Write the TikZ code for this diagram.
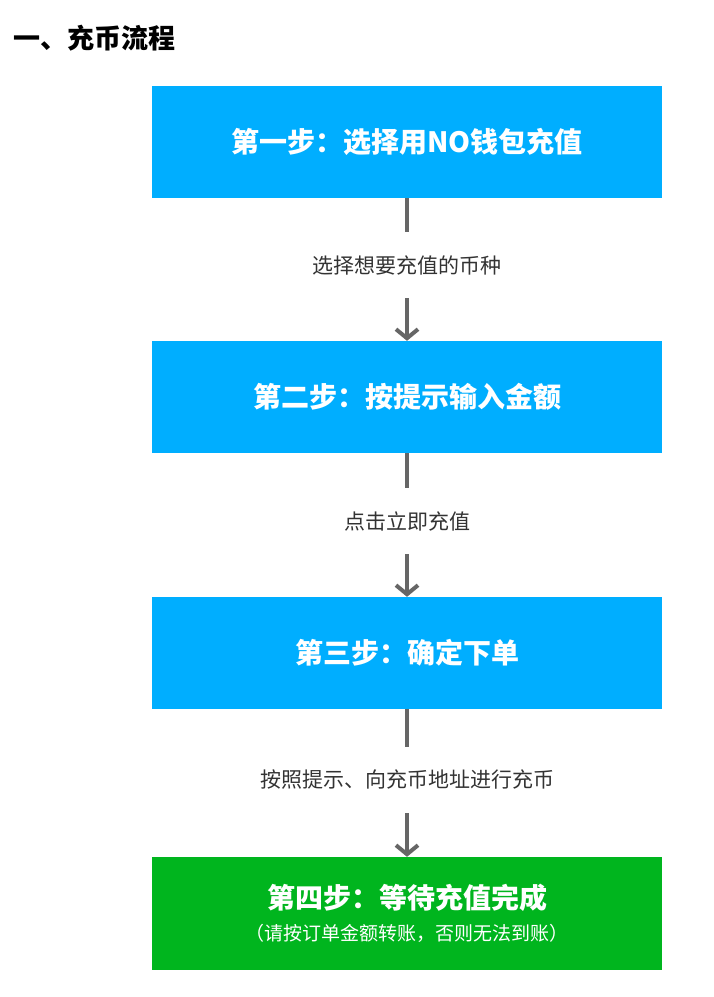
\documentclass[tikz,border=0pt]{standalone}
\usepackage{fontspec}
\setmainfont{Noto Sans CJK SC}
\usetikzlibrary{arrows.meta,positioning}
\definecolor{stepblue}{HTML}{00AEFF}
\definecolor{stepgreen}{HTML}{00B51E}
\definecolor{linkgray}{HTML}{666666}
\tikzset{
    stepbox/.style = {rectangle, fill=stepblue, text=white, minimum width=510pt, minimum height=112pt, align=center, font=\fontsize{28pt}{34pt}\selectfont\bfseries},
    lastbox/.style = {stepbox, fill=stepgreen, minimum height=113pt},
    hint/.style = {inner sep=0pt, minimum height=66pt, text=black!80, font=\fontsize{21pt}{26pt}\selectfont},
    link/.style = {draw=linkgray, line width=4pt}
}
\begin{document}
\begin{tikzpicture}[x=1pt, y=-1pt]
    \useasboundingbox (0,0) rectangle (713,997);
    \node [anchor=west, font=\fontsize{27pt}{32pt}\selectfont\bfseries] (title) at (10,38) {一、充币流程};

    \node [stepbox] (s1) at (407,142) {第一步：选择用NO钱包充值};
    \node [hint] (h1) at (407,265) {选择想要充值的币种};
    \node [stepbox] (s2) at (407,397) {第二步：按提示输入金额};
    \node [hint] (h2) at (407,521) {点击立即充值};
    \node [stepbox] (s3) at (407,653) {第三步：确定下单};
    \node [hint] (h3) at (407,780) {按照提示、向充币地址进行充币};
    \node [lastbox] (s4) at (407,913.5) {第四步：等待充值完成\\[-2pt]
        {\fontsize{19pt}{24pt}\selectfont\mdseries （请按订单金额转账，否则无法到账）}};

    % connectors
    \draw [link] (s1) -- (h1);
    \draw [link, -{Straight Barb[length=9pt, width=22pt]}] (h1) -- (s2);
    \draw [link] (s2) -- (h2);
    \draw [link, -{Straight Barb[length=9pt, width=22pt]}] (h2) -- (s3);
    \draw [link] (s3) -- (h3);
    \draw [link, -{Straight Barb[length=9pt, width=22pt]}] (h3) -- (s4);
\end{tikzpicture}
\end{document}
